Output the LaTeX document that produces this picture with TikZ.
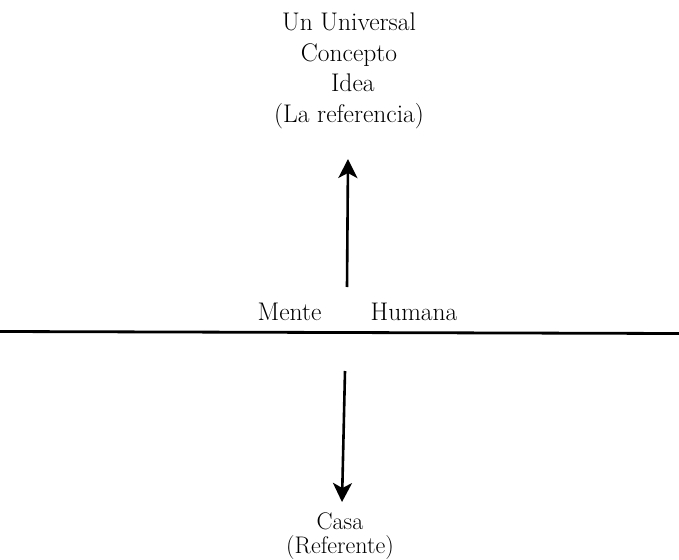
\documentclass[tikz,border=0pt]{standalone}
\usetikzlibrary{arrows.meta}
\begin{document}
\begin{tikzpicture}[x=1pt,y=-1pt,
  lbl/.style={inner sep=0pt,font=\fontsize{25.5}{30.4}\selectfont,align=center,anchor=base},
  lblsmall/.style={inner sep=0pt,font=\fontsize{24}{24}\selectfont,align=center,anchor=base},
  arr/.style={line width=2.6pt,-{Stealth[length=19pt,width=19pt,inset=5pt]}}]
\useasboundingbox (0,0) rectangle (679,559);
\node[lbl] (top) at (349,122) {Un Universal\\Concepto\\\ Idea\\(La referencia)};
\node[lbl] (mente) at (289.5,320) {Mente};
\node[lbl] (humana) at (414,320) {Humana};
\coordinate (lineL) at (0,331.5);
\coordinate (lineR) at (679,333.5);
\draw[line width=2.8pt] (lineL) -- (lineR);
\coordinate (upS) at (347,287);
\coordinate (upE) at (348,159);
\draw[arr] (upS) -- (upE);
\coordinate (dnS) at (345,371);
\coordinate (dnE) at (342,502);
\draw[arr] (dnS) -- (dnE);
\node[lblsmall] (casa) at (340,553) {Casa\\(Referente)};
\end{tikzpicture}
\end{document}
